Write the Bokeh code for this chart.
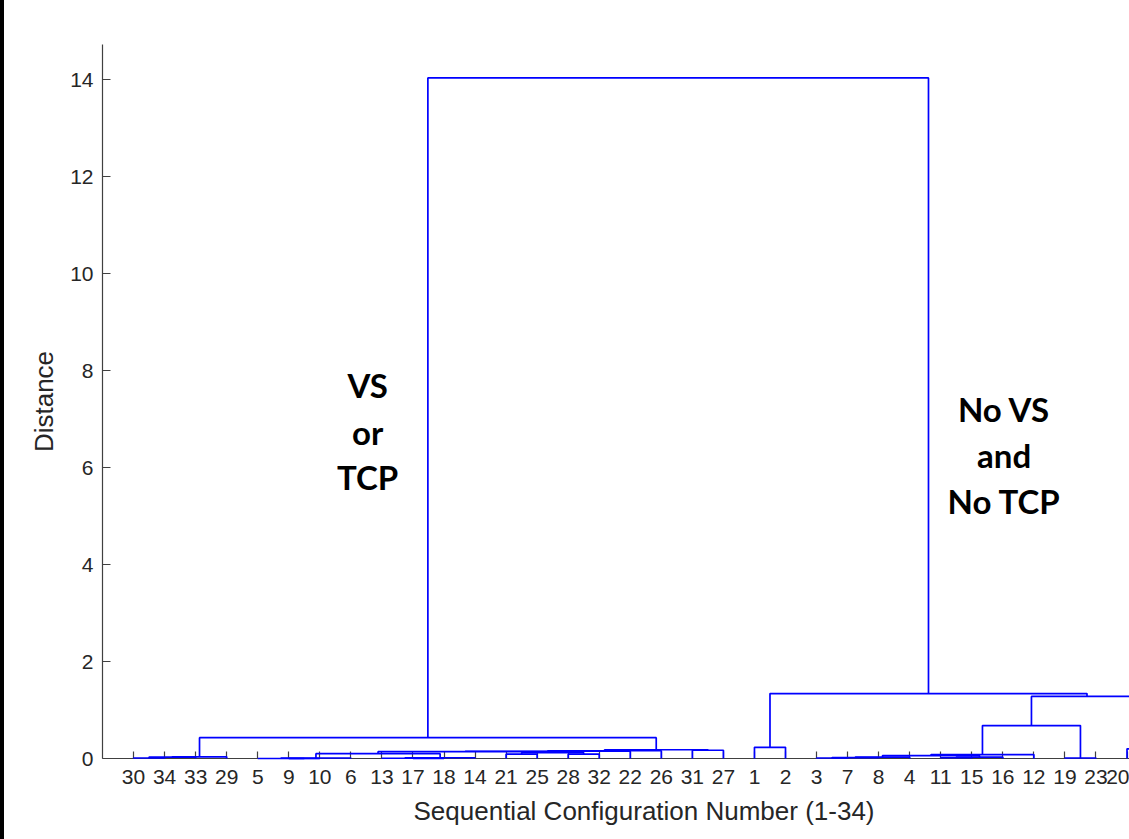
from bokeh.plotting import figure
from bokeh.models import FixedTicker, Range1d, Label, Title, Div
from bokeh.layouts import row
from bokeh.embed import file_html
from bokeh.resources import INLINE

# Leaf order (tick labels along the x axis)
leaf_labels = [30, 34, 33, 29, 5, 9, 10, 6, 13, 17, 18, 14, 21, 25, 28, 32,
               22, 26, 31, 27, 1, 2, 3, 7, 8, 4, 11, 15, 16, 12, 19, 23, 20, 24]

# Linkage: (left child, right child, merge distance); ints are configurations,
# "mK" refers to the K-th merge below.
merge_left = [9, 5, "m1", 17, 13, "m4", "m2", 21, 28, "m7", "m6", "m10", "m11", 31,
              "m12", 30, "m15", "m16", "m17", 1, 3, "m20", "m21", 11, "m23", "m22",
              "m25", 19, "m26", 20, "m28", "m19", "m18"]
merge_right = [10, "m0", 6, 18, "m3", 14, "m5", 25, 32, "m8", "m9", 22, 26, 27,
               "m13", 34, 33, 29, "m14", 2, 7, 8, 4, 15, 16, "m24",
               12, 23, "m27", 24, "m29", "m30", "m31"]
merge_dist = [0.0, 0.0, 0.01, 0.0, 0.005, 0.015, 0.10, 0.09, 0.09, 0.12, 0.14, 0.15,
              0.16, 0.17, 0.18, 0.01, 0.03, 0.035, 0.43, 0.23, 0.01, 0.02, 0.03,
              0.015, 0.03, 0.06, 0.08, 0.01, 0.68, 0.20, 1.28, 1.34, 14.04]

y_ticks = [0, 2, 4, 6, 8, 10, 12, 14]

# ---- build dendrogram segments from linkage ----
pos = {lab: i + 1 for i, lab in enumerate(leaf_labels)}
node_x, node_h = {}, {}


def child(c):
    if isinstance(c, str):
        return node_x[c], node_h[c]
    return pos[c], 0.0


xs, ys = [], []
for i, (a, b, h) in enumerate(zip(merge_left, merge_right, merge_dist)):
    xa, ha = child(a)
    xb, hb = child(b)
    xs.append([xa, xa, xb, xb])
    ys.append([ha, h, h, hb])
    node_x[f"m{i}"] = (xa + xb) / 2.0
    node_h[f"m{i}"] = h

p = figure(width=1125, height=839, output_backend="svg", toolbar_location=None,
           x_range=Range1d(0, 33.08), y_range=Range1d(0, 14.73),
           min_border_left=98, min_border_right=0, min_border_top=44,
           min_border_bottom=81, margin=0)
p.outline_line_color = None
p.grid.visible = False
p.background_fill_color = "white"
p.border_fill_color = "white"

r = p.multi_line(xs, ys, line_color="#0000ff", line_width=1.7)
r.level = "overlay"

axis_color = "#404040"
text_color = "#262626"
font = "Liberation Sans"

for ax in (p.xaxis[0], p.yaxis[0]):
    ax.axis_line_color = axis_color
    ax.axis_line_width = 1.2
    ax.major_tick_line_color = axis_color
    ax.major_tick_line_width = 1.2
    ax.major_tick_out = 0
    ax.minor_tick_in = 0
    ax.minor_tick_out = 0
    ax.major_label_text_font = font
    ax.major_label_text_font_size = "21px"
    ax.major_label_text_color = text_color
    ax.axis_label_text_font = font
    ax.axis_label_text_font_size = "26px"
    ax.axis_label_text_font_style = "normal"
    ax.axis_label_text_color = text_color

p.xaxis.ticker = FixedTicker(ticks=list(range(1, len(leaf_labels) + 1)))
p.xaxis.major_label_overrides = {i + 1: str(l) for i, l in enumerate(leaf_labels)}
p.xaxis.major_tick_in = 7
p.xaxis.major_label_standoff = 11

p.yaxis.ticker = FixedTicker(ticks=y_ticks)
p.yaxis.major_tick_in = 8
p.yaxis.major_label_standoff = 9
p.yaxis.axis_label = "Distance"
p.yaxis.axis_label_standoff = 8

# x axis title, placed as on the full (uncropped) axis
p.add_layout(Title(text="Sequential Configuration Number (1-34)", align="left",
                   offset=311, text_font=font, text_font_size="26px",
                   text_font_style="normal", text_color=text_color, standoff=14),
             "below")

ann_font = "Lato"
for txt, x, y in [("VS", 8.54, 7.70), ("or", 8.54, 6.74), ("TCP", 8.54, 5.80),
                  ("No VS", 29.04, 7.22), ("and", 29.04, 6.26), ("No TCP", 29.04, 5.32)]:
    p.add_layout(Label(x=x, y=y, text=txt, text_font=ann_font, text_font_size="33px",
                       text_font_style="bold", text_color="black",
                       text_align="center", text_baseline="alphabetic"))

bar = Div(width=4, height=839, margin=0, styles={"background-color": "black"})
layout = row(bar, p, spacing=0)

open("out.html", "w").write(file_html(layout, INLINE))
